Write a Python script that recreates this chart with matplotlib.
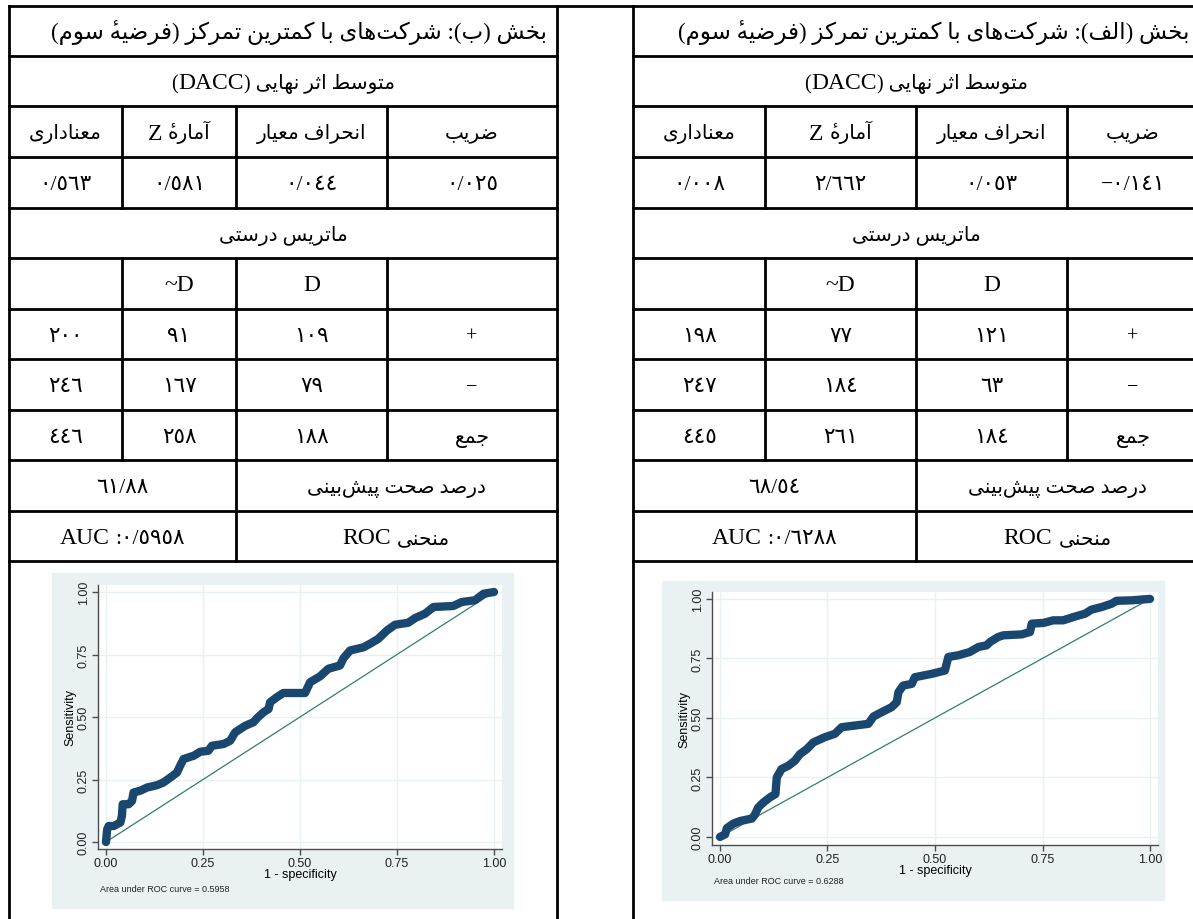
import re
import matplotlib
matplotlib.use('Agg')
import matplotlib.pyplot as plt
from matplotlib.patches import Rectangle

W, H = 1193, 920

# table text
title_b = 'بخش (ب): شرکت\u200cهای با کمترین تمرکز (فرضیه\u0654 سوم)'
title_a = 'بخش (الف): شرکت\u200cهای با کمترین تمرکز (فرضیه\u0654 سوم)'
subtitle = 'متوسط اثر نهایی (DACC)'
headers = ['ضریب', 'انحراف معیار', 'آماره\u0654 Z', 'معناداری']   # right to left
matrix_title = 'ماتریس درستی'
matrix_cols = ['D', '~D']
row_labels = ['+', '−', 'جمع']
accuracy_label = 'درصد صحت پیش\u200cبینی'
roc_label = 'منحنی ROC'

# coefficient, std. error, z, p
stats_b = [0.025, 0.044, 0.581, 0.563]
stats_a = [-0.141, 0.053, 2.662, 0.008]

# classification matrix: D, ~D, total
plus_b = [109, 91, 200]
minus_b = [79, 167, 246]
total_b = [188, 258, 446]
plus_a = [121, 77, 198]
minus_a = [63, 184, 247]
total_a = [184, 261, 445]

accuracy_b = 61.88
accuracy_a = 68.54
auc_b = 0.5958
auc_a = 0.6288

# ROC curve vertices (1 - specificity, sensitivity)
fpr_b = [0, 0.003, 0.007, 0.02, 0.037, 0.041, 0.043, 0.058, 0.067, 0.071, 0.088, 0.106,
         0.131, 0.148, 0.166, 0.183, 0.191, 0.2, 0.226, 0.243, 0.264, 0.273, 0.303, 0.32,
         0.333, 0.346, 0.359, 0.38, 0.389, 0.406, 0.419, 0.423, 0.44, 0.457, 0.513, 0.526,
         0.552, 0.573, 0.603, 0.612, 0.629, 0.664, 0.685, 0.702, 0.724, 0.745, 0.779, 0.797,
         0.822, 0.844, 0.895, 0.917, 0.951, 0.973, 1.0]
tpr_b = [0, 0.05, 0.064, 0.064, 0.078, 0.104, 0.151, 0.151, 0.164, 0.198, 0.205, 0.218,
         0.227, 0.238, 0.258, 0.278, 0.305, 0.332, 0.345, 0.361, 0.365, 0.385, 0.392, 0.405,
         0.439, 0.452, 0.465, 0.479, 0.495, 0.519, 0.532, 0.559, 0.579, 0.596, 0.596, 0.639,
         0.663, 0.693, 0.706, 0.735, 0.766, 0.779, 0.797, 0.813, 0.846, 0.869, 0.877, 0.896,
         0.913, 0.94, 0.944, 0.96, 0.967, 0.993, 1.0]
fpr_a = [0, 0.012, 0.016, 0.031, 0.047, 0.074, 0.081, 0.089, 0.101, 0.116, 0.129, 0.132,
         0.143, 0.159, 0.174, 0.186, 0.202, 0.217, 0.244, 0.267, 0.283, 0.314, 0.345, 0.357,
         0.376, 0.399, 0.411, 0.415, 0.426, 0.446, 0.453, 0.492, 0.523, 0.531, 0.554, 0.581,
         0.601, 0.62, 0.628, 0.647, 0.659, 0.702, 0.721, 0.725, 0.752, 0.775, 0.798, 0.822,
         0.849, 0.864, 0.888, 0.911, 0.922, 0.957, 1.0]
tpr_a = [0, 0.011, 0.037, 0.056, 0.067, 0.077, 0.093, 0.124, 0.145, 0.166, 0.18, 0.25,
         0.285, 0.299, 0.32, 0.348, 0.369, 0.397, 0.419, 0.433, 0.461, 0.468, 0.475, 0.506,
         0.524, 0.545, 0.566, 0.608, 0.636, 0.643, 0.671, 0.685, 0.699, 0.756, 0.763, 0.777,
         0.798, 0.805, 0.819, 0.84, 0.847, 0.851, 0.861, 0.896, 0.899, 0.91, 0.91, 0.924,
         0.938, 0.955, 0.966, 0.98, 0.992, 0.994, 1.0]

# --- minimal Arabic-script shaping (presentation forms) + visual ordering ---
FORMS = {
    'ا': '\uFE8D\uFE8E', 'آ': '\uFE81\uFE82', 'د': '\uFEA9\uFEAA', 'ر': '\uFEAD\uFEAE',
    'ز': '\uFEAF\uFEB0', 'و': '\uFEED\uFEEE',
    'ب': '\uFE8F\uFE90\uFE91\uFE92', 'پ': '\uFB56\uFB57\uFB58\uFB59',
    'ت': '\uFE95\uFE96\uFE97\uFE98', 'ث': '\uFE99\uFE9A\uFE9B\uFE9C',
    'ج': '\uFE9D\uFE9E\uFE9F\uFEA0', 'ح': '\uFEA1\uFEA2\uFEA3\uFEA4',
    'خ': '\uFEA5\uFEA6\uFEA7\uFEA8', 'س': '\uFEB1\uFEB2\uFEB3\uFEB4',
    'ش': '\uFEB5\uFEB6\uFEB7\uFEB8', 'ص': '\uFEB9\uFEBA\uFEBB\uFEBC',
    'ض': '\uFEBD\uFEBE\uFEBF\uFEC0', 'ط': '\uFEC1\uFEC2\uFEC3\uFEC4',
    'ع': '\uFEC9\uFECA\uFECB\uFECC', 'ف': '\uFED1\uFED2\uFED3\uFED4',
    'ک': '\uFB8E\uFB8F\uFB90\uFB91', 'ل': '\uFEDD\uFEDE\uFEDF\uFEE0',
    'م': '\uFEE1\uFEE2\uFEE3\uFEE4', 'ن': '\uFEE5\uFEE6\uFEE7\uFEE8',
    'ه': '\uFEE9\uFEEA\uFEEB\uFEEC', 'ی': '\uFBFC\uFBFD\uFBFE\uFBFF',
}
MARK = '\u0654'


def shape(s):
    letters = [c for c in s if c != MARK]
    clusters = []
    k = -1
    for ch in s:
        if ch == MARK:
            clusters[-1] += ch
            continue
        k += 1
        if ch == '\u200c':
            continue
        if ch not in FORMS:
            clusters.append(ch)
            continue
        prev = letters[k - 1] if k > 0 else ''
        nxt = letters[k + 1] if k + 1 < len(letters) else ''
        f = FORMS[ch]
        a = prev in FORMS and len(FORMS[prev]) == 4
        b = len(f) == 4 and nxt in FORMS
        if a and b:
            clusters.append(f[3])
        elif a:
            clusters.append(f[1])
        elif b:
            clusters.append(f[2])
        else:
            clusters.append(f[0])
    return clusters


def fa(s):
    t = ''.join(shape(s)[::-1])
    t = t.translate({ord('('): ')', ord(')'): '('})
    return re.sub(r'[A-Za-z0-9~]+', lambda m: m.group(0)[::-1], t)


DIGITS = str.maketrans('0123456789.-', '٠١٢٣٤٥٦٧٨٩/−')


def num(v, fmt='{:.3f}'):
    return fmt.format(v).translate(DIGITS)


plt.rcParams['font.family'] = ['Liberation Serif', 'DejaVu Sans']

fig = plt.figure(figsize=(W / 100, H / 100), dpi=100)
ax0 = fig.add_axes([0, 0, 1, 1])
ax0.set_xlim(0, W)
ax0.set_ylim(H, 0)
ax0.axis('off')
renderer = fig.canvas.get_renderer()

ys = [7, 57, 107, 158, 209, 259, 310, 360, 411, 461, 512, 562]
FS = 14.5     # persian text
DIG = 15.5    # numbers
LAT = 17      # latin runs
GAP = 6


def width(s, fs):
    if not s:
        return 0
    t = ax0.text(0, 0, s, fontsize=fs)
    w = t.get_window_extent(renderer).width
    t.remove()
    return w


def put(x, y, vis, ha='center', size=FS):
    # latin runs get their own (larger) serif size; everything shares a baseline
    items = []
    gap = 0
    for p in re.findall(r'[A-Za-z~]+|[^A-Za-z~]+', vis):
        if p.startswith(' '):
            gap = GAP
        core = p.strip()
        if core:
            fs = LAT if re.match(r'[A-Za-z~]', core) else size
            mark_x = None
            if MARK in core:
                i = core.index(MARK)
                core = core.replace(MARK, '')
                mark_x = (width(core[:i - 1], fs) + width(core[:i], fs)) / 2
            t = ax0.text(0, y + 7, core, fontsize=fs, ha='left', va='baseline')
            items.append((t, t.get_window_extent(renderer).width, gap if items else 0, mark_x, fs))
            gap = 0
        if p.endswith(' '):
            gap = GAP
    total = sum(w + g for _, w, g, _, _ in items)
    start = x - total / 2 if ha == 'center' else x - total
    for t, w, g, mark_x, fs in items:
        start += g
        t.set_x(start)
        if mark_x is not None:
            # small hamza sitting above the final heh
            ax0.text(start + mark_x, y + 7 - 0.8 * fs, '\u0621', fontsize=fs * 0.55,
                     ha='center', va='baseline')
        start += w


def hline(x1, x2, y):
    ax0.plot([x1, x2], [y, y], color='black', lw=2, solid_capstyle='projecting')


def vline(x, y1, y2):
    ax0.plot([x, x], [y1, y2], color='black', lw=2, solid_capstyle='projecting')


def draw_table(x0, x1, cols, title, stats, plus, minus, total, acc, auc):
    for y in ys[1:]:
        hline(x0, x1, y)
    vline(x0, ys[0], H)
    vline(x1, ys[0], H)
    for c in cols:
        vline(c, ys[2], ys[4])
        vline(c, ys[5], ys[9])
    vline(cols[1], ys[9], ys[11])
    edges = [x0] + cols + [x1]
    cx = [(edges[i] + edges[i + 1]) / 2 for i in range(4)]
    mid = lambda r: (ys[r] + ys[r + 1]) / 2
    put(x1 - 10, mid(0), fa(title), ha='right', size=16.5)
    put((x0 + x1) / 2, mid(1), fa(subtitle))
    for j, h in enumerate(headers):
        put(cx[3 - j], mid(2), fa(h))
    for j, v in enumerate(stats):
        put(cx[3 - j], mid(3), num(v), size=DIG)
    put((x0 + x1) / 2, mid(4), fa(matrix_title))
    put(cx[2], mid(5), matrix_cols[0])
    put(cx[1], mid(5), matrix_cols[1])
    for r, (lab, vals) in enumerate(zip(row_labels, [plus, minus, total])):
        put(cx[3], mid(6 + r), fa(lab))
        for j, v in enumerate(vals):
            put(cx[2 - j], mid(6 + r), str(v).translate(DIGITS), size=DIG)
    put((cols[1] + x1) / 2, mid(9), fa(accuracy_label))
    put((x0 + cols[1]) / 2, mid(9), num(acc, '{:.2f}'), size=DIG)
    put((cols[1] + x1) / 2, mid(10), fa(roc_label))
    put((x0 + cols[1]) / 2, mid(10), 'AUC :' + num(auc, '{:.4f}'), size=DIG)


hline(9, W, ys[0])
draw_table(9, 557, [122, 236, 387], title_b, stats_b, plus_b, minus_b, total_b, accuracy_b, auc_b)
draw_table(633, 1199, [765, 916, 1067], title_a, stats_a, plus_a, minus_a, total_a, accuracy_a, auc_a)

BG = '#e9f1f3'


def draw_roc(box, outer, xlim, ylim, fpr, tpr, auc, area_xy):
    x1, y1, x2, y2 = outer
    ax0.add_patch(Rectangle((x1, y1), x2 - x1, y2 - y1, color=BG, zorder=0))
    l, t, r, b = box
    ax = fig.add_axes([l / W, 1 - b / H, (r - l) / W, (b - t) / H])
    ax.set_facecolor('white')
    ax.set_xlim(*xlim)
    ax.set_ylim(*ylim)
    ticks = [0, 0.25, 0.5, 0.75, 1.0]
    ax.set_xticks(ticks)
    ax.set_yticks(ticks)
    ax.set_xticklabels(['%.2f' % v for v in ticks], fontsize=9, family='Liberation Sans')
    ax.set_yticklabels(['%.2f' % v for v in ticks], fontsize=9, family='Liberation Sans',
                       rotation=90, va='center')
    ax.grid(color=BG, lw=1)
    ax.set_axisbelow(True)
    for s in ['top', 'right']:
        ax.spines[s].set_visible(False)
    for s in ['left', 'bottom']:
        ax.spines[s].set_color('#4d4d4d')
        ax.spines[s].set_linewidth(1)
    ax.tick_params(length=4, width=1, color='#4d4d4d', pad=2, labelcolor='#222222')
    ax.set_xlabel('1 - specificity', fontsize=9, family='Liberation Sans', labelpad=-1)
    ax.set_ylabel('Sensitivity', fontsize=9, family='Liberation Sans', labelpad=1)
    ax.plot([0, 1], [0, 1], color='#2f7f6f', lw=0.9)
    ax.plot(fpr, tpr, color='#1a476f', lw=6, solid_joinstyle='round',
            solid_capstyle='round', clip_on=False)
    ax0.text(area_xy[0], area_xy[1], 'Area under ROC curve = %.4f' % auc, fontsize=6.5,
             family='Liberation Sans', ha='left', va='center', color='#222222')


draw_roc((98, 586, 502, 850), (52, 574, 513, 909), (-0.0206, 1.0206), (-0.028, 1.028),
         fpr_b, tpr_b, auc_b, (100, 890))
draw_roc((712, 593, 1158, 846), (662, 582, 1164, 901), (-0.0186, 1.0186), (-0.034, 1.029),
         fpr_a, tpr_a, auc_a, (714, 882))

fig.savefig('out.png', dpi=100)
